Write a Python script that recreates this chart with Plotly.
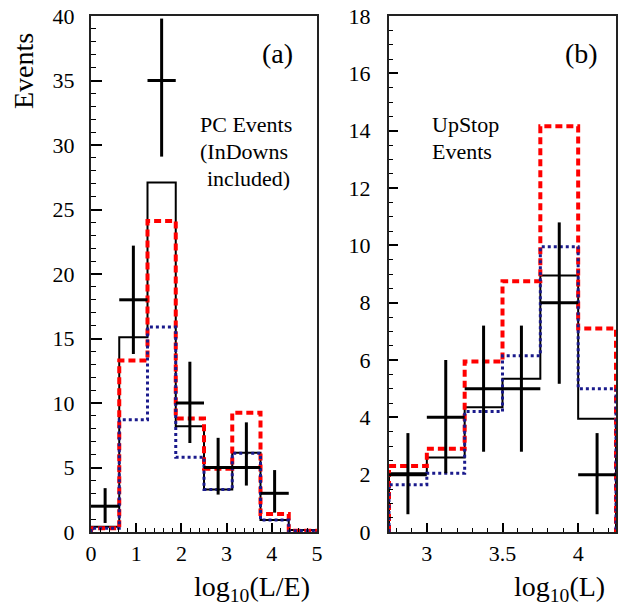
import plotly.graph_objects as go

# ---------------- data: panel (a) PC events vs log10(L/E) ----------------
a_edges = [0.0, 0.625, 1.25, 1.875, 2.5, 3.125, 3.75, 4.375, 5.0]
a_mc_black = [0.4, 15.1, 27.1, 8.2, 3.3, 6.15, 0.93, 0.15]
a_mc_red = [0.3, 13.3, 24.1, 8.8, 4.9, 9.25, 1.4, 0.1]
a_mc_blue = [0.3, 8.7, 15.9, 5.8, 3.3, 6.1, 0.93, 0.1]
a_data = [2, 18, 35, 10, 5, 5, 3]
a_data_hi = [3.4, 22.2, 39.8, 13.2, 7.3, 8.5, 4.8]
a_data_lo = [0.7, 13.8, 29.1, 6.9, 2.9, 3.6, 1.5]

# ---------------- data: panel (b) UpStop events vs log10(L) ----------------
b_edges = [2.75, 3.0, 3.25, 3.5, 3.75, 4.0, 4.25]
b_mc_black = [2.05, 2.6, 4.35, 5.35, 8.95, 3.95]
b_mc_red = [2.3, 2.9, 5.95, 8.75, 14.15, 7.1]
b_mc_blue = [1.65, 2.05, 4.2, 6.15, 9.95, 5.0]
b_data = [2, 4, 5, 5, 8, 2]
b_data_hi = [3.45, 6.0, 7.2, 7.2, 10.8, 3.45]
b_data_lo = [0.62, 2.05, 2.8, 2.8, 5.17, 0.62]

SERIF = "Liberation Serif, Times New Roman, serif"
RED = "#ff0000"
BLUE = "#1a1a8c"


def step_xy(edges, vals):
    xs = [edges[0]] + list(edges[:-1]) + [edges[-1], edges[-1]]
    ys = [0] + list(vals) + [vals[-1], 0]
    return xs, ys


fig = go.Figure()


def add_panel(edges, black, red, blue, data, hi, lo, xa, ya):
    for vals, color, width, dash in [
        (black, "black", 2, "solid"),
        (red, RED, 4, "7px,4px"),
        (blue, BLUE, 3, "3px,3px"),
    ]:
        xs, ys = step_xy(edges, vals)
        fig.add_trace(go.Scatter(
            x=xs, y=ys, mode="lines", line_shape="hv",
            line=dict(color=color, width=width, dash=dash),
            xaxis=xa, yaxis=ya, showlegend=False, hoverinfo="skip",
            cliponaxis=False))
    n = len(data)
    centers = [(edges[i] + edges[i + 1]) / 2 for i in range(n)]
    halfw = [(edges[i + 1] - edges[i]) / 2 for i in range(n)]
    fig.add_trace(go.Scatter(
        x=centers, y=data, mode="markers",
        marker=dict(size=1, color="black"),
        error_y=dict(type="data", symmetric=False,
                     array=[h - d for h, d in zip(hi, data)],
                     arrayminus=[d - l for d, l in zip(data, lo)],
                     color="black", thickness=3, width=0),
        error_x=dict(type="data", array=halfw, color="black",
                     thickness=3, width=0),
        xaxis=xa, yaxis=ya, showlegend=False))


add_panel(a_edges, a_mc_black, a_mc_red, a_mc_blue, a_data,
          a_data_hi, a_data_lo, "x", "y")
add_panel(b_edges, b_mc_black, b_mc_red, b_mc_blue, b_data,
          b_data_hi, b_data_lo, "x2", "y2")

W, H = 623, 605
ydom = [(H - 532) / H, (H - 16) / H]

axis_common = dict(
    showgrid=False, zeroline=False, showline=True, linecolor="#222222",
    linewidth=2, mirror=True, ticks="inside", tickcolor="black",
    tickwidth=1.5, tickfont=dict(family=SERIF, size=22, color="black"),
    automargin=False,
)

fig.update_layout(
    width=W, height=H,
    margin=dict(l=0, r=0, t=0, b=0, autoexpand=False),
    paper_bgcolor="white", plot_bgcolor="white",
    xaxis=dict(axis_common, domain=[91 / W, 317 / W], range=[0, 5],
               tickvals=[0, 1, 2, 3, 4, 5], ticklen=9,
               minor=dict(dtick=0.2, ticklen=4, ticks="inside",
                          tickcolor="black", tickwidth=1.2),
               ticklabelstandoff=1, anchor="y"),
    yaxis=dict(axis_common, domain=ydom, range=[0, 40],
               tickvals=[0, 5, 10, 15, 20, 25, 30, 35, 40], ticklen=11,
               minor=dict(dtick=1, ticklen=5, ticks="inside",
                          tickcolor="black", tickwidth=1.2),
               ticklabelstandoff=10, anchor="x"),
    xaxis2=dict(axis_common, domain=[389 / W, 616 / W], range=[2.75, 4.25],
                tickvals=[3, 3.5, 4], ticklen=9,
                minor=dict(dtick=0.1, tick0=2.8, ticklen=4, ticks="inside",
                           tickcolor="black", tickwidth=1.2),
                ticklabelstandoff=1, anchor="y2"),
    yaxis2=dict(axis_common, domain=ydom, range=[0, 18],
                tickvals=[0, 2, 4, 6, 8, 10, 12, 14, 16, 18], ticklen=9,
                minor=dict(dtick=0.5, ticklen=4, ticks="inside",
                           tickcolor="black", tickwidth=1.2),
                ticklabelstandoff=12, anchor="x2"),
)


def px_annot(text, x, y, size, xanchor="center", angle=0):
    fig.add_annotation(
        text=text, x=x / W, y=(H - y) / H, xref="paper", yref="paper",
        xanchor=xanchor, yanchor="middle", showarrow=False, textangle=angle,
        font=dict(family=SERIF, size=size, color="black"))


px_annot("Events", 23, 71, 28, angle=-90)
px_annot("(a)", 277, 54, 28)
px_annot("(b)", 581, 53, 28)
px_annot("PC Events", 246, 125, 22)
px_annot("(InDowns", 244, 152, 22)
px_annot("included)", 248, 178, 22)
px_annot("UpStop", 430, 125, 22, xanchor="left")
px_annot("Events", 430, 151, 22, xanchor="left")
px_annot("log<sub>10</sub>(L/E)", 312, 588, 28, xanchor="right")
px_annot("log<sub>10</sub>(L)", 607, 588, 28, xanchor="right")

fig.write_html("out.html")
